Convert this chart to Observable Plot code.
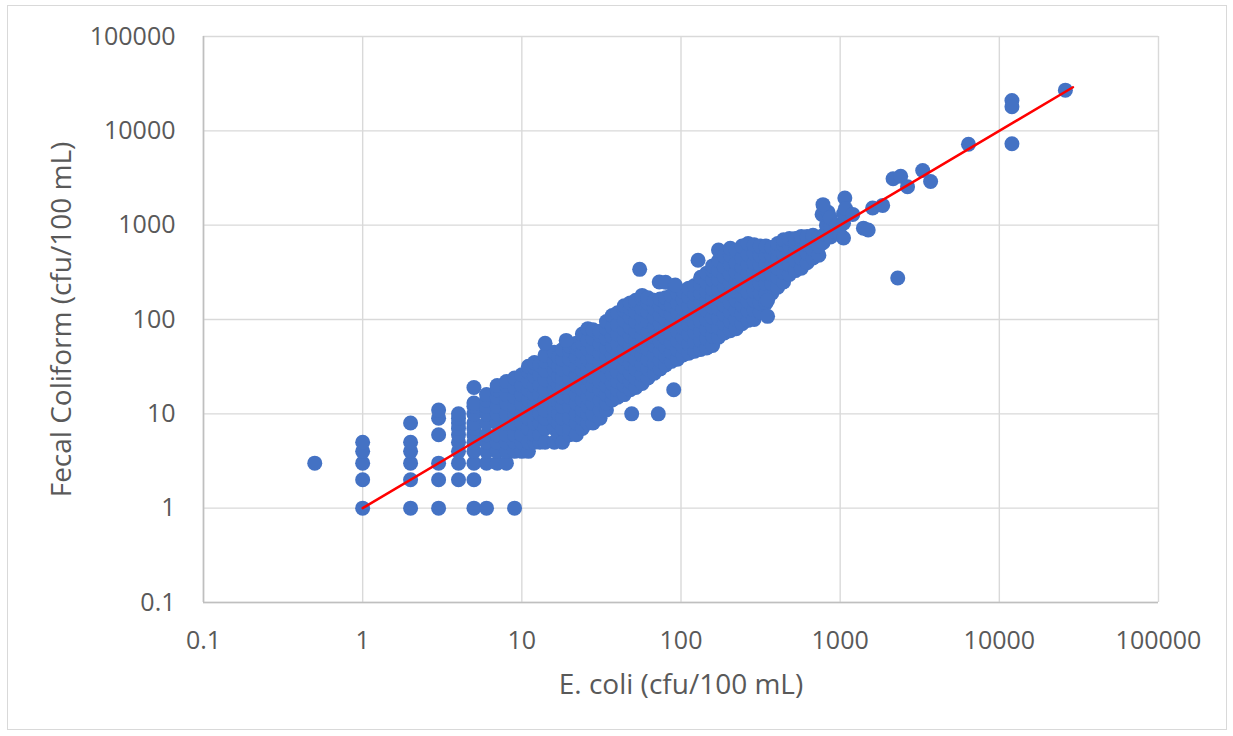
<!DOCTYPE html>
<html>
<head>
<meta charset="utf-8">
<script src="https://cdn.jsdelivr.net/npm/d3@7"></script>
<script src="https://cdn.jsdelivr.net/npm/@observablehq/plot@0.6"></script>
<style>
  html, body { margin: 0; padding: 0; background: #ffffff; }
  #wrap { position: relative; width: 1233px; height: 736px; overflow: hidden; }
  #border { position: absolute; left: 7px; top: 5px; width: 1220px; height: 725px; border: 1.5px solid #d9d9d9; box-sizing: border-box; }
  #chart { position: absolute; left: 0; top: 0; }
</style>
</head>
<body>
<div id="wrap"><div id="border"></div><div id="chart"></div></div>
<script>
// ---- Data ----
const xTitle = "E. coli (cfu/100 mL)";
const yTitle = "Fecal Coliform (cfu/100 mL)";
const xTicks = [0.1, 1, 10, 100, 1000, 10000, 100000];
const yTicks = [0.1, 1, 10, 100, 1000, 10000, 100000];

// discrete low counts [E. coli, fecal coliform]
const lowCounts = [
  [0.5, 3],
  [1, 1], [1, 2], [1, 3], [1, 4], [1, 5],
  [2, 1], [2, 2], [2, 3], [2, 4], [2, 5], [2, 8],
  [3, 1], [3, 2], [3, 3], [3, 6], [3, 9], [3, 11],
  [4, 2], [5, 1], [5, 2], [6, 1], [9, 1]
];

// dense band: [E. coli, list of fecal coliform values at that E. coli]
const bandColumns = [
  [4, [3, 4, 5, 6, 7, 8, 9, 10]],
  [5, [3, 4, 5, 6, 7, 8, 10, 12, 13]],
  [6, [3, 4, 5, 6, 8, 10, 12, 14, 16]],
  [7, [3, 4, 5, 6, 8, 10, 12, 15, 18, 20]],
  [8, [3, 4, 5, 6, 8, 10, 13, 16, 20, 22]],
  [9, [4, 5, 6, 8, 10, 12, 15, 19, 24]],
  [10, [4, 5, 6, 8, 10, 13, 16, 20, 26]],
  [11, [4, 5, 7, 9, 11, 14, 18, 22, 28, 32]],
  [12, [5, 6, 8, 10, 13, 16, 20, 25, 31, 35]],
  [13, [5, 6, 8, 10, 13, 16, 20, 26, 33]],
  [14, [5, 7, 9, 11, 14, 18, 23, 29, 36, 42]],
  [16, [5, 7, 9, 11, 14, 18, 23, 29, 36, 45]],
  [17, [6, 8, 10, 13, 16, 20, 25, 32, 40]],
  [18, [5, 7, 9, 12, 15, 19, 24, 30, 38, 48]],
  [20, [6, 7, 9, 12, 15, 19, 24, 30, 38, 47, 52]],
  [22, [6, 8, 10, 13, 16, 20, 26, 32, 40, 50, 56]],
  [24, [7, 9, 11, 14, 18, 23, 29, 36, 45, 56, 70]],
  [26, [8, 10, 12, 15, 19, 24, 30, 38, 48, 60, 80]],
  [28, [8, 10, 13, 16, 20, 25, 32, 40, 50, 63, 78]],
  [31, [9, 11, 14, 18, 22, 28, 35, 44, 55, 68, 75]],
  [34, [11, 13, 16, 20, 25, 32, 40, 50, 63, 80, 95]],
  [37, [14, 17, 21, 26, 33, 42, 52, 66, 83, 110]],
  [40, [15, 18, 22, 28, 35, 44, 55, 70, 88, 118]],
  [44, [16, 20, 25, 31, 39, 49, 62, 78, 98, 125, 140]],
  [48, [18, 22, 27, 34, 42, 52, 66, 83, 105, 130, 150]],
  [52, [19, 24, 30, 38, 48, 60, 75, 95, 120, 150, 160]],
  [57, [21, 26, 33, 42, 52, 66, 83, 105, 130, 165, 180]],
  [62, [24, 30, 38, 48, 60, 75, 95, 120, 150, 170]],
  [68, [27, 34, 42, 53, 66, 83, 105, 130, 160]],
  [74, [30, 37, 46, 58, 72, 90, 112, 140, 165]],
  [80, [33, 41, 51, 64, 80, 100, 125, 150, 170]],
  [87, [36, 45, 57, 71, 90, 113, 142, 180]],
  [95, [38, 48, 60, 75, 95, 120, 150, 190]],
  [103, [42, 52, 65, 82, 103, 130, 165, 200]],
  [112, [44, 55, 70, 88, 110, 140, 175, 215]],
  [122, [46, 58, 73, 92, 115, 145, 185, 230]],
  [133, [48, 60, 76, 96, 120, 150, 190, 240, 280]],
  [145, [50, 63, 79, 100, 125, 158, 200, 250, 310]],
  [158, [53, 67, 85, 105, 135, 170, 210, 265, 330, 370]],
  [172, [65, 82, 103, 130, 165, 210, 265, 330, 420, 545]],
  [187, [72, 90, 113, 142, 180, 225, 285, 360, 470]],
  [204, [76, 96, 120, 150, 190, 240, 300, 380, 480, 570]],
  [222, [80, 100, 126, 160, 200, 250, 315, 400, 540]],
  [242, [90, 113, 142, 180, 225, 285, 360, 450, 600]],
  [264, [98, 123, 155, 195, 245, 310, 390, 490, 640]],
  [288, [100, 126, 160, 200, 250, 315, 400, 500, 620]],
  [314, [120, 150, 190, 240, 300, 380, 480, 600]],
  [342, [150, 190, 240, 300, 380, 480, 600]],
  [372, [190, 240, 300, 380, 480, 580]],
  [405, [220, 280, 350, 440, 560, 640]],
  [441, [250, 315, 400, 500, 620, 700]],
  [480, [300, 380, 480, 600, 720]],
  [523, [330, 420, 530, 660, 720]],
  [570, [350, 440, 560, 700, 760]],
  [620, [400, 500, 630, 760]],
  [675, [450, 560, 700, 780]],
  [735, [480, 600, 750]]
];

// scattered points off the band
const scattered = [
  [5, 19], [14, 56], [19, 60], [49, 10], [72, 10], [90, 18],
  [55, 340], [73, 250], [80, 248], [92, 232], [128, 425],
  [350, 160], [350, 108]
];

// high counts
const highCounts = [
  [780, 650], [800, 800], [820, 1000], [770, 1300], [840, 1370], [780, 1650],
  [870, 750], [870, 950], [865, 1200], [950, 830], [950, 1000], [1000, 790],
  [1050, 730], [1050, 1050], [1050, 1330], [1070, 1940], [1080, 1500], [1200, 1300],
  [1400, 930], [1500, 890], [1600, 1520], [1850, 1620], [2300, 275],
  [2150, 3100], [2400, 3300], [2650, 2550], [3300, 3800], [3700, 2900],
  [6400, 7200], [12000, 21000], [12000, 18000], [12000, 7300], [26000, 27000]
];

// fitted line (1:1)
const fitX = [1, 29000];
const fitY = [1, 29000];

// ---- Build tables ----
const points = [
  ...lowCounts.map(([e, f]) => ({ecoli: e, fecal: f})),
  ...bandColumns.flatMap(([e, fs]) => fs.map(f => ({ecoli: e, fecal: f}))),
  ...scattered.map(([e, f]) => ({ecoli: e, fecal: f})),
  ...highCounts.map(([e, f]) => ({ecoli: e, fecal: f}))
];
const fitLine = fitX.map((x, i) => ({x, y: fitY[i]}));
const fmt = d => String(d);
const textColor = "#595959";

const chart = Plot.plot({
  width: 1233,
  height: 736,
  marginLeft: 203,
  marginRight: 75,
  marginTop: 36,
  marginBottom: 134,
  style: {fontFamily: "'Open Sans', sans-serif", fontSize: "25px", color: textColor, background: "transparent"},
  x: {type: "log", domain: [0.1, 100000], label: null},
  y: {type: "log", domain: [0.1, 100000], label: null},
  marks: [
    Plot.gridX(xTicks, {stroke: "#d9d9d9", strokeOpacity: 1, strokeWidth: 1.4}),
    Plot.gridY(yTicks, {stroke: "#d9d9d9", strokeOpacity: 1, strokeWidth: 1.4}),
    Plot.ruleX([0.1], {stroke: "#bfbfbf", strokeWidth: 1.6}),
    Plot.ruleY([0.1], {stroke: "#bfbfbf", strokeWidth: 1.6}),
    Plot.axisX(xTicks, {tickSize: 0, tickPadding: 29, tickFormat: fmt, fill: textColor, fontSize: 25, label: null}),
    Plot.axisY(yTicks, {tickSize: 0, tickPadding: 28, tickFormat: fmt, fill: textColor, fontSize: 25, label: null}),
    Plot.dot(points, {x: "ecoli", y: "fecal", r: 7.5, fill: "#4472C4"}),
    Plot.line(fitLine, {x: "x", y: "y", stroke: "#ff0000", strokeWidth: 2.5}),
    Plot.text([xTitle], {frameAnchor: "bottom", dy: 83, fontSize: 28, fill: textColor, lineAnchor: "middle", textAnchor: "middle"}),
    Plot.text([yTitle], {frameAnchor: "left", dx: -141, rotate: -90, fontSize: 28, fill: textColor, lineAnchor: "middle", textAnchor: "middle"})
  ]
});
document.getElementById("chart").appendChild(chart);
</script>
</body>
</html>
